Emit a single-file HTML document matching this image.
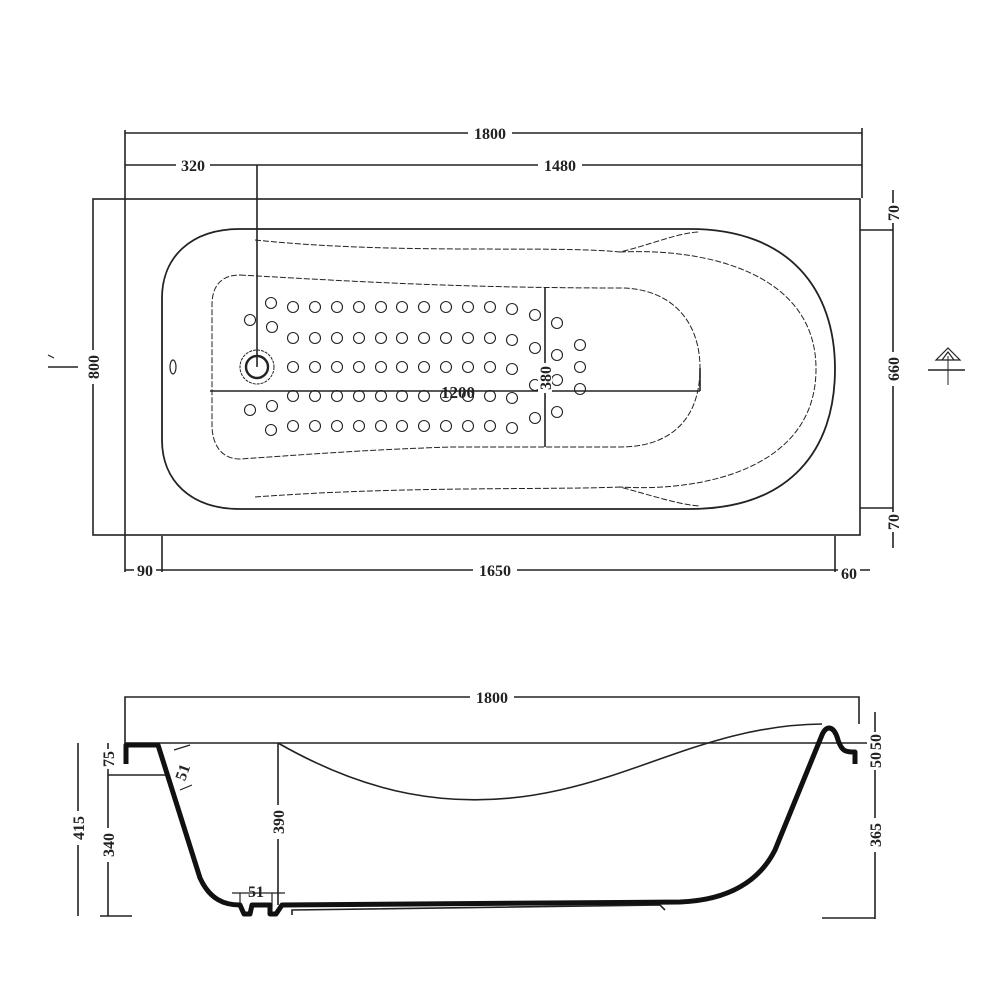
<!DOCTYPE html>
<html><head><style>html,body{margin:0;padding:0;background:#fff}svg{display:block}</style></head>
<body>
<svg width="1000" height="1000" viewBox="0 0 1000 1000" xmlns="http://www.w3.org/2000/svg" font-family="Liberation Serif, serif" font-weight="bold" font-size="16" fill="none" stroke="#222">
<!-- TOP VIEW -->
<g stroke-width="1.6">
<line x1="125" y1="133" x2="862" y2="133"/>
<line x1="862" y1="128" x2="862" y2="198"/>
<line x1="125" y1="165" x2="862" y2="165"/>
<line x1="257" y1="165" x2="257" y2="367"/>
<line x1="125" y1="130" x2="125" y2="572"/>
<rect x="93" y="199" width="767" height="336"/>
<line x1="860" y1="230" x2="893" y2="230"/>
<line x1="860" y1="508" x2="893" y2="508"/>
<line x1="893" y1="190" x2="893" y2="548"/>
<line x1="162" y1="536" x2="162" y2="572"/>
<line x1="835" y1="536" x2="835" y2="572"/>
<line x1="125" y1="570" x2="870" y2="570"/>
<line x1="48" y1="367" x2="78" y2="367"/>
<line x1="928" y1="370" x2="965" y2="370"/>
<line x1="948" y1="356" x2="948" y2="385" stroke-width="1"/>
<path d="M936 360 L948 348 L960 360 Z M942 360 L948 352 L954 360" stroke-width="1.2"/>
<path d="M48 355 l6 3" stroke-width="1.2"/>
</g>
<!-- tub outline -->
<path d="M240 229 L690 229 C790 229 835 290 835 369 C835 450 790 509 690 509 L240 509 C190 509 162 480 162 440 L162 298 C162 258 190 229 240 229 Z" stroke-width="1.8"/>
<path d="M255 240 C400 255 550 245 620 252 C650 245 680 232 700 232" stroke-width="1" stroke-dasharray="6 2"/>
<path d="M620 252 C700 248 816 270 816 369 C816 470 700 492 620 487" stroke-width="1" stroke-dasharray="6 2"/>
<path d="M255 497 C400 486 550 490 620 487 C650 495 680 505 700 506" stroke-width="1" stroke-dasharray="6 2"/>
<path d="M240 275 C330 280 450 288 620 288 C670 288 700 320 700 368 C700 420 670 447 620 447 L450 447 C360 450 300 455 240 459 C218 459 212 440 212 425 L212 305 C212 285 222 275 240 275 Z" stroke-width="1" stroke-dasharray="6 2"/>
<line x1="210" y1="391" x2="700" y2="391" stroke-width="1.6"/>
<line x1="545" y1="288" x2="545" y2="447" stroke-width="1.6"/>
<line x1="700" y1="368" x2="700" y2="391" stroke-width="1.6"/>
<ellipse cx="173" cy="367" rx="3" ry="7" stroke-width="1.2"/>
<circle cx="257" cy="367" r="17" stroke-width="1" stroke-dasharray="3 1"/>
<circle cx="257" cy="367" r="11" stroke-width="2.4"/>
<g stroke-width="1.1">
<circle cx="271" cy="303" r="5.5"/><circle cx="250" cy="320" r="5.5"/><circle cx="272" cy="327" r="5.5"/>
<circle cx="250" cy="410" r="5.5"/><circle cx="272" cy="406" r="5.5"/><circle cx="271" cy="430" r="5.5"/>
<circle cx="535" cy="315" r="5.5"/><circle cx="535" cy="348" r="5.5"/><circle cx="535" cy="385" r="5.5"/><circle cx="535" cy="418" r="5.5"/>
<circle cx="557" cy="323" r="5.5"/><circle cx="557" cy="355" r="5.5"/><circle cx="557" cy="380" r="5.5"/><circle cx="557" cy="412" r="5.5"/>
<circle cx="580" cy="345" r="5.5"/><circle cx="580" cy="367" r="5.5"/><circle cx="580" cy="389" r="5.5"/>
</g>
<g stroke-width="1.1" id="row">
<circle cx="293" cy="307" r="5.5"/><circle cx="315" cy="307" r="5.5"/><circle cx="337" cy="307" r="5.5"/><circle cx="359" cy="307" r="5.5"/><circle cx="381" cy="307" r="5.5"/><circle cx="402" cy="307" r="5.5"/><circle cx="424" cy="307" r="5.5"/><circle cx="446" cy="307" r="5.5"/><circle cx="468" cy="307" r="5.5"/><circle cx="490" cy="307" r="5.5"/><circle cx="512" cy="309" r="5.5"/>
</g>
<use href="#row" y="31"/><use href="#row" y="60"/><use href="#row" y="89"/><use href="#row" y="119"/>
<g fill="#222" stroke="none">
<rect x="176" y="157" width="34" height="16" fill="#fff"/><text x="193" y="171" text-anchor="middle">320</text>
<rect x="468" y="125" width="44" height="16" fill="#fff"/><text x="490" y="139" text-anchor="middle">1800</text>
<rect x="538" y="157" width="44" height="16" fill="#fff"/><text x="560" y="171" text-anchor="middle">1480</text>
<text x="458" y="398" text-anchor="middle" font-size="17">1200</text>
<rect x="473" y="562" width="44" height="16" fill="#fff"/><text x="495" y="576" text-anchor="middle">1650</text>
<rect x="134" y="562" width="22" height="16" fill="#fff"/><text x="145" y="576" text-anchor="middle">90</text>
<rect x="838" y="562" width="22" height="16" fill="#fff"/><text x="849" y="579" text-anchor="middle">60</text>
<g transform="translate(93,367) rotate(-90)"><rect x="-17" y="-8" width="34" height="16" fill="#fff"/><text x="0" y="6" text-anchor="middle">800</text></g>
<g transform="translate(893,369) rotate(-90)"><rect x="-17" y="-8" width="34" height="16" fill="#fff"/><text x="0" y="6" text-anchor="middle">660</text></g>
<g transform="translate(893,213) rotate(-90)"><rect x="-10" y="-8" width="20" height="16" fill="#fff"/><text x="0" y="6" text-anchor="middle">70</text></g>
<g transform="translate(893,522) rotate(-90)"><rect x="-10" y="-8" width="20" height="16" fill="#fff"/><text x="0" y="6" text-anchor="middle">70</text></g>
<g transform="translate(545,378) rotate(-90)"><rect x="-15" y="-7" width="30" height="14" fill="#fff"/><text x="0" y="6" text-anchor="middle">380</text></g>
</g>

<!-- SIDE VIEW -->
<g stroke-width="1.6">
<path d="M125 743 L125 697 L859 697 L859 724"/>
<line x1="125" y1="743" x2="872" y2="743"/>
<line x1="875" y1="712" x2="875" y2="919"/>
<line x1="822" y1="918" x2="875" y2="918"/>
<line x1="108" y1="743" x2="108" y2="916"/>
<line x1="78" y1="743" x2="78" y2="916"/>
<line x1="108" y1="775" x2="165" y2="775"/>
<line x1="100" y1="916" x2="132" y2="916"/>
<line x1="278" y1="743" x2="278" y2="905"/>
<path d="M278 743 C360 790 450 815 560 790 C650 770 720 725 822 724"/>
<path d="M292 915 L292 910 L660 905 L665 910"/>
<line x1="240" y1="893" x2="240" y2="908" stroke-width="1.2"/>
<line x1="272" y1="893" x2="272" y2="908" stroke-width="1.2"/>
<line x1="232" y1="893" x2="285" y2="893" stroke-width="1.2"/>
<path d="M174 750 L190 745 M180 790 L192 785" stroke-width="1.2"/>
</g>
<path d="M126 764 L126 745 L158 745 L200 878 C210 900 225 905 240 905 L244 914 L250 914 L252 905 L270 905 L270 914 L276 914 L282 905 L680 902 C730 900 760 880 775 850 L822 735 C826 725 834 725 838 740 C842 752 846 752 855 752 L855 764" stroke="#111" stroke-width="5" stroke-linejoin="round"/>
<g fill="#222" stroke="none">
<rect x="470" y="689" width="44" height="16" fill="#fff"/><text x="492" y="703" text-anchor="middle">1800</text>
<g transform="translate(108,759) rotate(-90)"><rect x="-10" y="-8" width="20" height="16" fill="#fff"/><text x="0" y="6" text-anchor="middle">75</text></g>
<g transform="translate(108,845) rotate(-90)"><rect x="-17" y="-8" width="34" height="16" fill="#fff"/><text x="0" y="6" text-anchor="middle">340</text></g>
<g transform="translate(78,828) rotate(-90)"><rect x="-17" y="-8" width="34" height="16" fill="#fff"/><text x="0" y="6" text-anchor="middle">415</text></g>
<g transform="translate(278,822) rotate(-90)"><rect x="-17" y="-8" width="34" height="16" fill="#fff"/><text x="0" y="6" text-anchor="middle">390</text></g>
<g transform="translate(875,835) rotate(-90)"><rect x="-17" y="-8" width="34" height="16" fill="#fff"/><text x="0" y="6" text-anchor="middle">365</text></g>
<g transform="translate(875,742) rotate(-90)"><rect x="-10" y="-8" width="20" height="16" fill="#fff"/><text x="0" y="6" text-anchor="middle">50</text></g>
<g transform="translate(875,760) rotate(-90)"><rect x="-10" y="-8" width="20" height="16" fill="#fff"/><text x="0" y="6" text-anchor="middle">50</text></g>
<g transform="translate(182,772) rotate(-70)"><text x="0" y="6" text-anchor="middle">51</text></g>
<text x="256" y="897" text-anchor="middle">51</text>
</g>
</svg>
</body></html>
